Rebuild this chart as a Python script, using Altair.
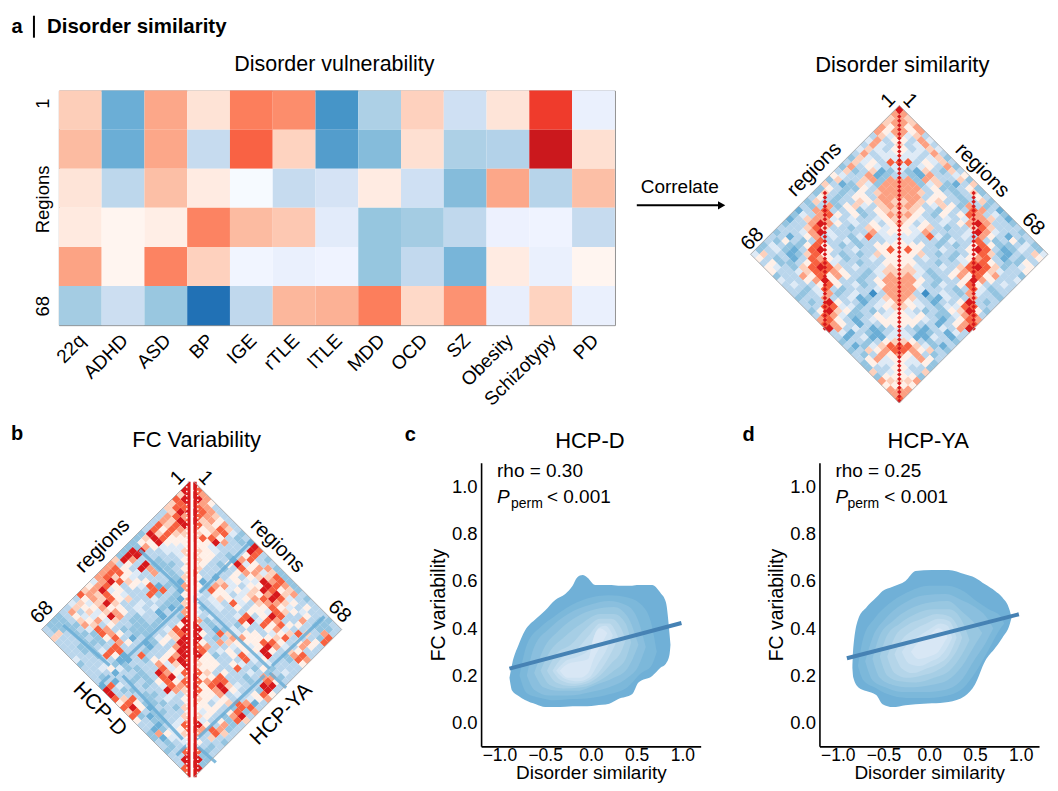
import altair as alt
import pandas as pd

FONT = "Liberation Sans"

# ---------- panel a heat map ----------
DISORDERS = ["22q", "ADHD", "ASD", "BP", "IGE", "rTLE", "lTLE", "MDD", "OCD", "SZ", "Obesity", "Schizotypy", "PD"]
REGION_ROWS = ["r1", "r2", "r3", "r4", "r5", "r6"]
R1 = [.30, -.60, .50, .18, .68, .62, -.78, -.33, .28, -.17, .17, .90, -.07]
R2 = [.40, -.60, .50, -.20, .78, .27, -.72, -.50, .20, -.33, -.30, 1.0, .20]
R3 = [.17, -.25, .38, .12, -.02, -.20, -.15, .12, -.17, -.50, .50, -.28, .38]
R4 = [.13, .05, .10, .66, .40, .33, -.10, -.43, -.37, -.23, -.06, -.05, -.20]
R5 = [.52, .05, .66, .28, -.04, -.07, -.05, -.43, -.22, -.55, .12, -.07, .05]
R6 = [-.37, -.18, -.42, -1.0, -.23, .42, .45, .68, .24, .60, -.08, .27, -.07]
HEAT_STOPS = [-1, -.8, -.6, -.4, -.2, -.05, 0, .05, .2, .4, .6, .75, .9, 1]
HEAT_COLORS = ["#2171b5", "#4292c6", "#6baed6", "#9ecae1", "#c6dbef", "#eff3ff", "#ffffff", "#fff5f0",
               "#fee0d2", "#fcbba1", "#fc9272", "#fb6a4a", "#ef3b2c", "#cb181d"]

# ---------- rotated similarity matrices: one string per horizontal row of the diamond ----------
LEVEL_STOPS = list(range(10))
LEVEL_COLORS = ["#3d8ec6", "#6baed6", "#94c4e0", "#bad6ec", "#deeaf6", "#fff0e8", "#fdd0bc", "#fca082", "#f7603f", "#d7191c"]

A_ROWS = ["9", "7", "76", "76", "757", "757", "7463", "5374", "63473", "53464", "544373", "443462",
          "8835463", "4345372", "42163263", "32173345", "772763362", "772462136", "7773522352", "7763532362",
          "77735532353", "67656332362", "776346527323", "665325338731", "7753253587342", "6543343477631",
          "75353435797332", "54563233686333", "554733334974332", "443842343753133", "5433324338323523",
          "5553232358522342", "58533433598312432", "55632323586213364", "55343324578313235", "5533233488532253",
          "5643343689862345", "664233578864335", "674323575857332", "77532335975334", "77532435853343",
          "7743332384233", "7730343274323", "763214337332", "754313359323", "65432448833", "54323256952",
          "5453224783", "5554313587", "553313578", "432134379", "43123143", "44114313", "6532332", "8864213",
          "875632", "757323", "54753", "54452", "5332", "5436", "552", "667", "55", "77", "7", "8"]
A_SPINE_ROWS = list(range(68))
A_SIDE_SPINE_ROWS = [19, 20, 21, 22, 23, 24, 25, 26, 27, 28, 29, 30, 31, 32, 33, 34, 35, 36, 37, 38, 39, 40, 41, 42,
                     43, 44, 45, 46, 47, 48, 49, 50]

B_LEFT = ["9", "9", "96", "98", "986", "886", "9963", "7873", "89673", "98683", "678583", "668692",
          "5558962", "5559552", "54445722", "64433992", "643333992", "533233796", "6322293537", "5322793587",
          "63237345887", "62333345687", "512335568974", "722184535875", "7138833354976", "5232833458678",
          "71234336586753", "62233433696464", "821243435575563", "733134357646373", "8231332379544532",
          "9332322364756322", "95332223353672222", "98432222378432223", "88633223578222363", "9654231385232336",
          "9935213573222333", "973313338332233", "995332338842233", "97533831582333", "89855231133334",
          "9647333224332", "9548332245433", "857932331333", "749832233323", "85852323133", "87843233481",
          "6793332239", "6343223339", "534323868", "533222585", "62331598", "53322386", "6332128", "7432235",
          "843133", "854213", "64572", "54412", "4323", "6323", "832", "933", "93", "93", "8", "8"]
B_RIGHT = ["9", "8", "97", "97", "875", "873", "9873", "8763", "96753", "86573", "756863", "657842",
           "6885323", "5597321", "55433339", "65433398", "655323583", "653317832", "5532594533", "6332385772",
           "73333577462", "53135356682", "613645449782", "527743559872", "5385454698562", "4355346579673",
           "33465457898432", "43438436776533", "523435355854353", "433333554865433", "5343348359833533",
           "7233389487337322", "93233253858553223", "93124333574333223", "95386455345686373", "9323775556833328",
           "9537655588535758", "873345459743753", "983453559536533", "95235844932783", "75533384533287",
           "6553543343335", "7553383252333", "863533432343", "955833237723", "87883323853", "95896433993",
           "8579533293", "9557343585", "654533457", "753568713", "55532883", "54535827", "6532793", "8435286",
           "953723", "878723", "73863", "63633", "5332", "7323", "823", "923", "92", "92", "9", "8"]
# blue stripes of panel b as (u, k) pairs: side, u1, k1, u2, k2
B_STRIPES = [(1, 12.8, 13, 1.3, 24.5), (1, .5, 26, 17.4, 42), (1, 30, 30, 18, 41.3), (1, 17.4, 43, 21.2, 46.4),
             (1, 16.2, 43.6, .5, 58.3), (1, .5, 59.7, 5, 63.6),
             (-1, 11.4, 14.7, 1.5, 24), (-1, 1.5, 27.5, 16, 41), (-1, 29, 32, 18.3, 41.3), (-1, 18.3, 43.6, 20.6, 45.7),
             (-1, 15.3, 43.6, 1.5, 58.3), (-1, 2.9, 62, .6, 59.7)]

# ---------- density contours (x, low, high) ----------
C_LEVELS = [
    [(-.89, .19, .19), (-.86, .135, .25), (-.79, .113, .33), (-.72, .096, .39), (-.60, .078, .44), (-.50, .066, .475),
     (-.39, .066, .52), (-.28, .068, .545), (-.20, .07, .58), (-.15, .07, .615), (-.09, .07, .625), (-.04, .07, .615),
     (.05, .073, .583), (.2, .08, .583), (.3, .10, .58), (.45, .12, .58), (.52, .17, .583), (.67, .198, .583),
     (.76, .233, .55), (.82, .25, .51), (.86, .29, .375), (.87, .33, .33)],
    [(-.78, .2, .2), (-.7, .125, .33), (-.55, .105, .405), (-.4, .095, .45), (-.2, .1, .5), (0, .105, .53), (.2, .12, .54),
     (.4, .15, .53), (.55, .21, .5), (.66, .24, .42), (.72, .3, .3)],
    [(-.7, .2, .2), (-.62, .14, .32), (-.45, .115, .4), (-.25, .115, .46), (0, .13, .5), (.2, .15, .515), (.4, .19, .495),
     (.52, .24, .43), (.6, .32, .32)],
    [(-.62, .21, .21), (-.52, .15, .31), (-.35, .135, .39), (-.15, .135, .45), (.05, .16, .48), (.25, .19, .49),
     (.4, .23, .45), (.52, .33, .33)],
    [(-.55, .22, .22), (-.45, .16, .3), (-.3, .145, .36), (-.1, .15, .42), (.1, .18, .46), (.25, .22, .46), (.38, .27, .42),
     (.44, .34, .34)],
    [(-.48, .22, .22), (-.38, .17, .29), (-.22, .155, .33), (-.05, .165, .4), (.1, .2, .44), (.22, .25, .44), (.33, .3, .4),
     (.38, .35, .35)],
    [(-.42, .22, .22), (-.33, .18, .27), (-.18, .165, .3), (-.02, .18, .37), (.1, .22, .42), (.2, .28, .42), (.3, .36, .36)],
    [(-.38, .22, .22), (-.28, .185, .26), (-.14, .175, .28), (-.02, .19, .31), (.08, .25, .4), (.16, .3, .41), (.24, .37, .37)],
    [(-.34, .22, .22), (-.25, .19, .25), (-.12, .19, .26), (-.03, .21, .27), (.03, .27, .36), (.1, .32, .4), (.18, .38, .38)],
]
D_LEVELS = [
    [(-.84, .233, .233), (-.83, .191, .318), (-.77, .148, .445), (-.69, .134, .487), (-.58, .117, .53), (-.51, .078, .558),
     (-.40, .066, .576), (-.26, .074, .6), (-.15, .078, .642), (.03, .082, .647), (.21, .088, .647), (.39, .113, .628),
     (.5, .162, .614), (.61, .26, .586), (.72, .316, .558), (.8, .36, .53), (.88, .417, .475), (.9, .445, .445)],
    [(-.78, .24, .24), (-.72, .18, .36), (-.6, .15, .44), (-.45, .12, .5), (-.25, .105, .55), (0, .105, .58), (.2, .115, .58),
     (.38, .15, .555), (.5, .21, .52), (.65, .31, .48), (.78, .4, .45), (.82, .42, .42)],
    [(-.7, .26, .26), (-.62, .18, .36), (-.48, .15, .44), (-.3, .13, .5), (-.05, .13, .54), (.18, .14, .545), (.35, .18, .52),
     (.5, .27, .49), (.62, .34, .45), (.7, .4, .4)],
    [(-.62, .27, .27), (-.54, .19, .37), (-.4, .16, .43), (-.22, .15, .48), (.02, .16, .51), (.2, .18, .515), (.36, .24, .47),
     (.5, .33, .42), (.58, .38, .38)],
    [(-.54, .28, .28), (-.46, .2, .37), (-.32, .175, .42), (-.15, .17, .46), (.05, .19, .48), (.22, .22, .48), (.36, .29, .43),
     (.44, .35, .35)],
    [(-.46, .28, .28), (-.38, .21, .36), (-.25, .19, .41), (-.08, .2, .44), (.08, .22, .46), (.22, .26, .45), (.32, .32, .4),
     (.36, .36, .36)],
    [(-.38, .29, .29), (-.3, .23, .35), (-.18, .21, .39), (-.03, .23, .42), (.1, .25, .44), (.22, .29, .43), (.3, .36, .36)],
    [(-.3, .3, .3), (-.22, .25, .34), (-.1, .24, .37), (.02, .26, .4), (.12, .28, .42), (.2, .32, .41), (.25, .36, .36)],
    [(-.2, .3, .3), (-.12, .27, .34), (0, .28, .37), (.1, .3, .4), (.18, .35, .38), (.2, .36, .36)],
]
KDE_COLORS = ["#70b0d7", "#7cb8da", "#8abfde", "#98c7e1", "#a6cee5", "#b4d5e9", "#c1dcee", "#cde2f2", "#d8e7f5"]
C_FIT_X, C_FIT_Y = [-.89, .99], [.229, .422]
D_FIT_X, D_FIT_Y = [-.90, .98], [.273, .459]


def label(text, x, y, size=20, angle=0, weight="normal", align="center", style="normal", color="black"):
    return alt.Chart(alt.Data(values=[{"t": text}])).mark_text(
        font=FONT, fontSize=size, angle=angle, fontWeight=weight, fontStyle=style, align=align,
        baseline="middle", color=color
    ).encode(x=alt.value(x), y=alt.value(y), text="t:N")


def lattice(rows, side=1, shift=0.0):
    out = []
    for k, row in enumerate(rows):
        count = min(k, 66 - k) // 2 + 1
        for i, ch in enumerate(row[:count]):
            u = k % 2 + 2 * i
            out.append({"x": side * (u + shift), "k": k, "v": int(ch)})
    return out


def enc(xdom, ydom):
    return dict(
        x=alt.X("x:Q", scale=alt.Scale(domain=xdom, nice=False, zero=False), axis=None),
        y=alt.Y("k:Q", scale=alt.Scale(domain=ydom, nice=False, zero=False), axis=None),
    )


def cells(data, xdom, ydom, size=82):
    return alt.Chart(pd.DataFrame(data)).mark_point(
        shape="diamond", filled=True, size=size, opacity=1
    ).encode(
        color=alt.Color("v:Q", scale=alt.Scale(domain=LEVEL_STOPS, range=LEVEL_COLORS), legend=None),
        **enc(xdom, ydom),
    )


def outline(points, xdom, ydom):
    df = pd.DataFrame([{"x": p[0], "k": p[1], "o": i} for i, p in enumerate(points)])
    return alt.Chart(df).mark_line(color="#a8a8a8", strokeWidth=0.9).encode(order="o:Q", **enc(xdom, ydom))


# ---------- panel a ----------
heat_df = pd.DataFrame([
    {"d": d, "r": r, "h": v}
    for r, vals in zip(REGION_ROWS, [R1, R2, R3, R4, R5, R6])
    for d, v in zip(DISORDERS, vals)
])
heat = alt.Chart(heat_df).mark_rect().encode(
    x=alt.X("d:N", sort=DISORDERS, title=None, axis=alt.Axis(
        labelAngle=315, labelAlign="right", labelBaseline="middle", labelFont=FONT, labelFontSize=19,
        labelColor="black", ticks=False, domain=False, labelPadding=12, labelOffset=2)),
    y=alt.Y("r:N", sort=REGION_ROWS, axis=None),
    color=alt.Color("h:Q", scale=alt.Scale(domain=HEAT_STOPS, range=HEAT_COLORS), legend=None),
)
bar = alt.Chart(alt.Data(values=[{"a": 1}])).mark_rule(color="black", strokeWidth=2).encode(
    x=alt.value(-25), y=alt.value(-75), y2=alt.value(-53))
panel_a = alt.layer(
    heat, bar,
    label("a", -42, -64, 20, weight="bold"),
    label("Disorder similarity", -12, -64, 20.5, weight="bold", align="left"),
    label("Disorder vulnerability", 276, -26, 21.5),
    label("Regions", -16, 109, 18.5, angle=270),
    label("1", -16, 13, 18.5, angle=270),
    label("68", -16, 216, 18.5, angle=270),
).properties(width=557, height=235, view=alt.ViewConfig(stroke="#808080", strokeWidth=1))

# ---------- panel a diamond ----------
AX, AY = [-34, 34], [67, -4.42]
a_half = lattice(A_ROWS)
a_all = a_half + [{"x": -c["x"], "k": c["k"], "v": c["v"]} for c in a_half if c["x"] != 0]
a_spine = [{"x": 0, "k": i - .5, "v": 9} for i in A_SPINE_ROWS]
a_side = [{"x": s * 17, "k": k, "v": 9} for k in A_SIDE_SPINE_ROWS for s in (-1, 1)]
arrow_head = alt.Chart(alt.Data(values=[{"a": 1}])).mark_point(
    shape="triangle-right", filled=True, size=70, color="black", opacity=1
).encode(x=alt.value(-29), y=alt.value(115))
arrow_line = alt.Chart(alt.Data(values=[{"a": 1}])).mark_rule(color="black", strokeWidth=2).encode(
    x=alt.value(-114), x2=alt.value(-32), y=alt.value(115))
panel_a2 = alt.layer(
    cells(a_all, AX, AY),
    cells(a_spine + a_side, AX, AY, size=20),
    outline([(0, -1), (34, 33), (0, 67), (-34, 33), (0, -1)], AX, AY),
    arrow_line, arrow_head,
    label("Correlate", -71, 97, 19),
    label("Disorder similarity", 152, -26, 22),
    label("1", 138, 10, 20, angle=315), label("1", 160, 10, 20, angle=45),
    label("regions", 64, 79, 20.5, angle=315), label("regions", 232, 80, 20.5, angle=45),
    label("68", 2, 149, 20.5, angle=315), label("68", 283, 134, 20.5, angle=45),
).properties(width=298, height=313)

# ---------- panel b ----------
BX, BY = [-30.57, 39.31], [59.9, -5.37]
G = .57
b_all = lattice(B_LEFT, -1, G) + lattice(B_RIGHT, 1, G)
stripe_df = pd.DataFrame([
    {"x": s * (u1 + G), "k": k1, "x2": s * (u2 + G), "k2": k2} for s, u1, k1, u2, k2 in B_STRIPES
])
stripes = alt.Chart(stripe_df).mark_rule(color="#6baed6", strokeWidth=3.2, opacity=.85).encode(
    x2="x2:Q", y2="k2:Q", **enc(BX, BY))


def bar_b(xv, color, width, dash=None):
    kw = {"strokeDash": dash} if dash else {}
    df = pd.DataFrame({"x": [xv], "k": [-1], "k2": [67]})
    return alt.Chart(df).mark_rule(color=color, strokeWidth=width, **kw).encode(y2="k2:Q", **enc(BX, BY))


panel_b = alt.layer(
    cells(b_all, BX, BY, size=78),
    stripes,
    bar_b(0, "white", 3.4),
    bar_b(-G, "#d7191c", 2.8),
    bar_b(G + .25, "#d7191c", 3.0),
    bar_b(-G - .55, "white", 1.5, [1.5, 2.9]),
    bar_b(G + .85, "white", 1.5, [1.5, 2.9]),
    outline([(-G, -1), (-G - 34, 33), (-G, 67)], BX, BY),
    outline([(G, -1), (G + 34, 33), (G, 67)], BX, BY),
    label("b", -42, -29, 20, weight="bold"),
    label("FC Variability", 138, -23, 22),
    label("1", 119, 15, 20, angle=315), label("1", 147, 15, 20, angle=45),
    label("regions", 44, 83, 20.5, angle=315), label("regions", 219, 83, 20.5, angle=45),
    label("68", -17, 150, 20.5, angle=315), label("68", 281, 149, 20.5, angle=45),
    label("HCP-D", 41, 247, 21, angle=45), label("HCP-YA", 223, 252, 21, angle=315),
).properties(width=304, height=284)


# ---------- panels c / d ----------
def scatter(levels, fit_x, fit_y, letter, name, rho, dxs):
    xs = alt.Scale(domain=[-1.2, 1.2], nice=False, zero=False)
    ys = alt.Scale(domain=[-.1, 1.1], nice=False, zero=False)
    x_enc = alt.X("x:Q", scale=xs, title="Disorder similarity", axis=alt.Axis(
        values=[-1, -.5, 0, .5, 1], format=".1f", grid=False, ticks=False, domain=True, domainColor="black",
        domainWidth=1.6, labelFont=FONT, labelFontSize=17.5, labelColor="black", labelPadding=0,
        titleFont=FONT, titleFontSize=19, titleFontWeight="normal", titleColor="black", titlePadding=0))
    y_enc = alt.Y("lo:Q", scale=ys, title="FC variability", axis=alt.Axis(
        values=[0, .2, .4, .6, .8, 1], format=".1f", grid=False, ticks=False, domain=True, domainColor="black",
        domainWidth=1.6, labelFont=FONT, labelFontSize=18.5, labelColor="black", labelPadding=4,
        titleFont=FONT, titleFontSize=19.5, titleFontWeight="normal", titleColor="black", titlePadding=3))
    layers = []
    for lev, col in zip(levels, KDE_COLORS):
        df = pd.DataFrame(lev, columns=["x", "lo", "hi"])
        layers.append(alt.Chart(df).mark_area(color=col, interpolate="monotone", opacity=1).encode(
            x=x_enc, y=y_enc, y2="hi:Q"))
    fit = pd.DataFrame({"x": fit_x, "lo": fit_y})
    layers.append(alt.Chart(fit).mark_line(color="#4682b4", strokeWidth=4).encode(x=x_enc, y=y_enc))
    layers += [
        label(letter, -71, -28, 20, weight="bold"),
        label(name, 109, -22, 22),
        label(rho, dxs[0], 8, 19, align="left"),
        label("P", dxs[0], 34, 19, align="left", style="italic"),
        label("perm", dxs[1], 41, 14, align="left"),
        label("< 0.001", dxs[2], 34, 19, align="left"),
    ]
    return alt.layer(*layers).properties(width=220, height=284)


panel_c = scatter(C_LEVELS, C_FIT_X, C_FIT_Y, "c", "HCP-D", "rho = 0.30", (16, 30, 66))
panel_d = scatter(D_LEVELS, D_FIT_X, D_FIT_Y, "d", "HCP-YA", "rho = 0.25", (16, 28, 65))

row1 = alt.HConcatChart(hconcat=[panel_a, panel_a2], spacing=136, bounds="flush").resolve_scale(color="independent")
row2 = alt.HConcatChart(hconcat=[panel_b, panel_c, panel_d], spacing=119, bounds="flush").resolve_scale(color="independent")
chart = alt.VConcatChart(vconcat=[row1, row2], spacing=14).properties(
    padding={"left": 2, "top": 5, "right": 0, "bottom": 0}, background="white"
).resolve_scale(color="independent").configure_view(stroke=None)

chart.save("out.html", embed_options={"renderer": "svg", "actions": False})
